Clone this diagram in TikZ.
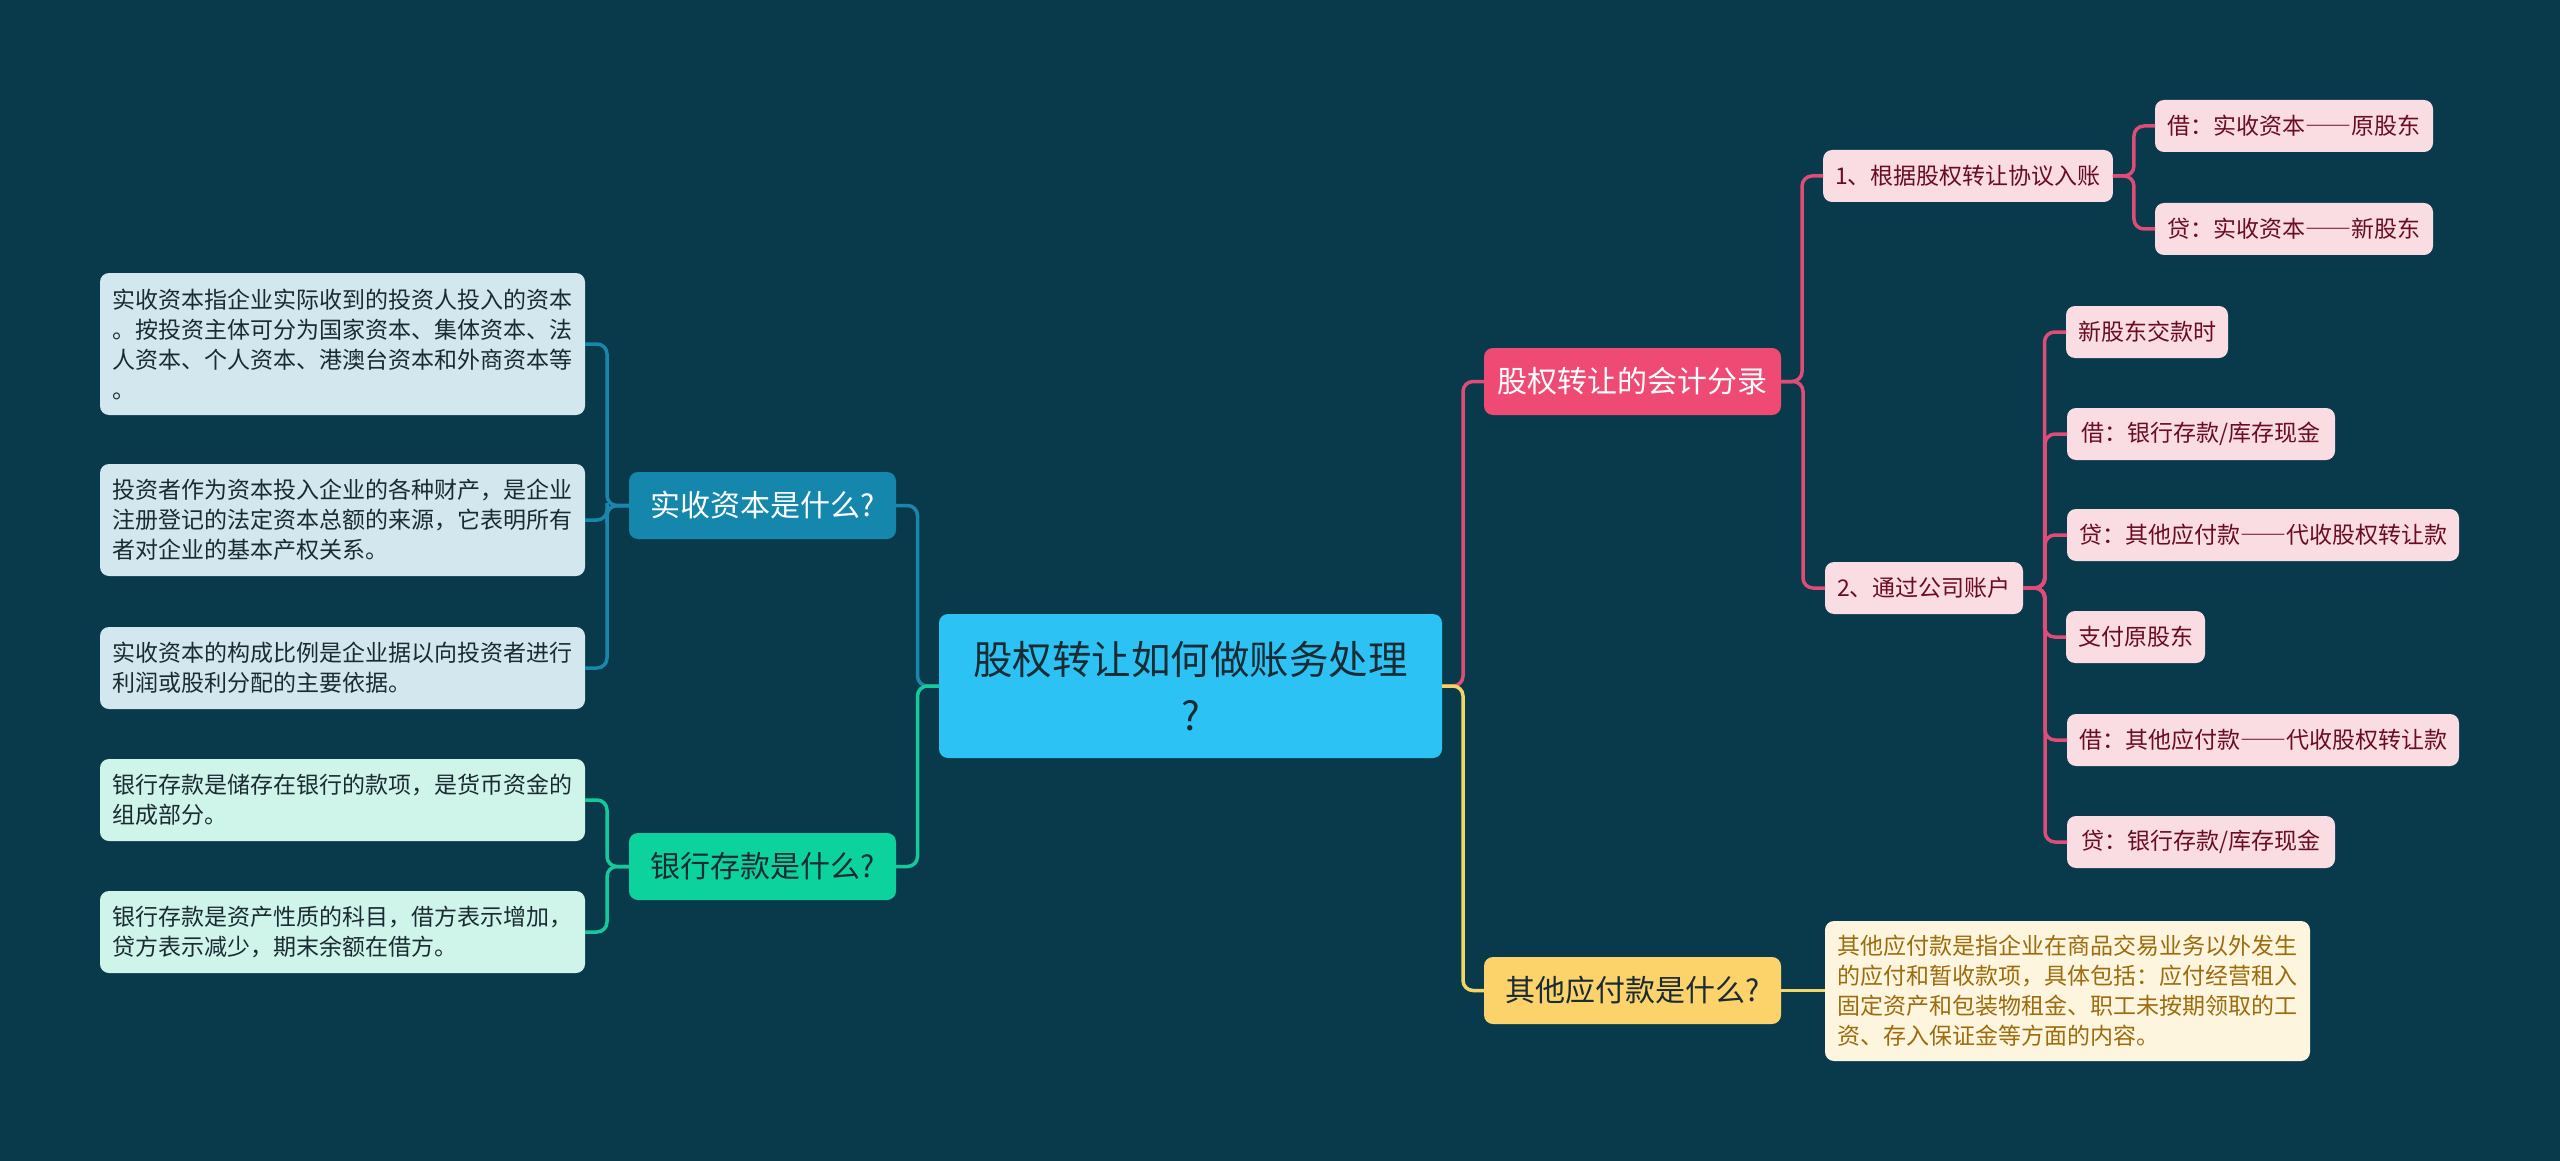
\documentclass[tikz,border=0pt]{standalone}
\usepackage{fontspec}
\setmainfont{Noto Sans CJK SC}
\newfontfamily\fwdash[RawFeature=+fwid]{Noto Sans CJK SC}
\newcommand{\dd}{{\fwdash ——}}
\usetikzlibrary{calc}
\definecolor{bg}{HTML}{093A4C}
\definecolor{cCenter}{HTML}{2CC3F4}
\definecolor{cA}{HTML}{1687AC}
\definecolor{cAl}{HTML}{D2E7EE}
\definecolor{cB}{HTML}{0CD39E}
\definecolor{cBl}{HTML}{CFF5EB}
\definecolor{cC}{HTML}{EE4A74}
\definecolor{cCl}{HTML}{FADCE3}
\definecolor{cD}{HTML}{FCD26A}
\definecolor{cDl}{HTML}{FDF5DE}
\definecolor{lA}{HTML}{1A86AB}
\definecolor{lB}{HTML}{15C99A}
\definecolor{lC}{HTML}{DF4C77}
\definecolor{lD}{HTML}{F3D467}
\definecolor{tDark}{HTML}{1B2B33}
\definecolor{tRed}{HTML}{6A0D24}
\definecolor{tBrown}{HTML}{9C6C0E}
\begin{document}
\begin{tikzpicture}[x=1pt,y=-1pt,
  box/.style={rounded corners=9pt, inner sep=0pt, outer sep=0pt},
  leaf/.style={box, font=\fontsize{23}{30}\selectfont, align=left, inner xsep=12pt},
  lvl/.style={box, font=\fontsize{30}{38}\selectfont, align=center, minimum width=#1, minimum height=67pt},
  con/.style={line width=3.5pt, rounded corners=10pt},
]
\useasboundingbox (0,0) rectangle (2560,1161);
\fill[bg] (0,0) rectangle (2560,1161);

% center
\node[box, fill=cCenter, text=tDark, font=\fontsize{39.5}{56}\selectfont, align=center,
  minimum width=503pt, minimum height=144pt] (ctr) at (1190.5,686) {股权转让如何做账务处理\\?};

% level 1
\node[lvl=267pt, fill=cA, text=white] (A) at (762.5,505.5) {实收资本是什么?};
\node[lvl=267pt, fill=cB, text=tDark] (B) at (762.5,866.5) {银行存款是什么?};
\node[lvl=297pt, fill=cC, text=white] (C) at (1632.5,381.5) {股权转让的会计分录};
\node[lvl=297pt, fill=cD, text=tDark] (D) at (1632.5,990.5) {其他应付款是什么?};

% left leaves
\node[leaf, fill=cAl, text=tDark, text width=461pt, minimum height=142pt] (A1) at (342.5,344)
  {实收资本指企业实际收到的投资人投入的资本\\。按投资主体可分为国家资本、集体资本、法\\人资本、个人资本、港澳台资本和外商资本等\\。};
\node[leaf, fill=cAl, text=tDark, text width=461pt, minimum height=112pt] (A2) at (342.5,520)
  {投资者作为资本投入企业的各种财产，是企业\\注册登记的法定资本总额的来源，它表明所有\\者对企业的基本产权关系。};
\node[leaf, fill=cAl, text=tDark, text width=461pt, minimum height=82pt] (A3) at (342.5,668)
  {实收资本的构成比例是企业据以向投资者进行\\利润或股利分配的主要依据。};
\node[leaf, fill=cBl, text=tDark, text width=461pt, minimum height=82pt] (B1) at (342.5,800)
  {银行存款是储存在银行的款项，是货币资金的\\组成部分。};
\node[leaf, fill=cBl, text=tDark, text width=461pt, minimum height=82pt] (B2) at (342.5,932)
  {银行存款是资产性质的科目，借方表示增加，\\贷方表示减少，期末余额在借方。};

% D leaf
\node[leaf, fill=cDl, text=tBrown, text width=461pt, minimum height=140pt] (D1) at (2067.5,991)
  {其他应付款是指企业在商品交易业务以外发生\\的应付和暂收款项，具体包括：应付经营租入\\固定资产和包装物租金、职工未按期领取的工\\资、存入保证金等方面的内容。};

% C branch
\node[leaf, fill=cCl, text=tRed, minimum width=286pt, minimum height=52pt] (C1) at (1968,176) {1、根据股权转让协议入账};
\node[leaf, fill=cCl, text=tRed, minimum width=278pt, minimum height=52pt] (C1a) at (2294,126) {借：实收资本\dd 原股东};
\node[leaf, fill=cCl, text=tRed, minimum width=278pt, minimum height=52pt] (C1b) at (2294,229) {贷：实收资本\dd 新股东};
\node[leaf, fill=cCl, text=tRed, minimum width=198pt, minimum height=52pt] (C2) at (1924,588) {2、通过公司账户};
\node[leaf, fill=cCl, text=tRed, minimum width=160pt, minimum height=52pt] (C21) at (2147,332) {新股东交款时};
\node[leaf, fill=cCl, text=tRed, minimum width=268pt, minimum height=52pt] (C22) at (2201,434) {借：银行存款/库存现金};
\node[leaf, fill=cCl, text=tRed, minimum width=392pt, minimum height=52pt] (C23) at (2263,535) {贷：其他应付款\dd 代收股权转让款};
\node[leaf, fill=cCl, text=tRed, minimum width=137pt, minimum height=52pt] (C24) at (2135.5,637) {支付原股东};
\node[leaf, fill=cCl, text=tRed, minimum width=392pt, minimum height=52pt] (C25) at (2263,740) {借：其他应付款\dd 代收股权转让款};
\node[leaf, fill=cCl, text=tRed, minimum width=268pt, minimum height=52pt] (C26) at (2201,842) {贷：银行存款/库存现金};

% connectors: center to level 1
\draw[con, lA] (ctr.west) -| ($(ctr.west)!.5!(A.east)$) |- (A.east);
\draw[con, lB] (ctr.west) -| ($(ctr.west)!.5!(B.east)$) |- (B.east);
\draw[con, lC] (ctr.east) -| ($(ctr.east)!.5!(C.west)$) |- (C.west);
\draw[con, lD] (ctr.east) -| ($(ctr.east)!.5!(D.west)$) |- (D.west);

% A branch
\foreach \n in {A1,A2,A3}
  \draw[con, lA] (A.west) -| ($(A.west)!.5!(\n.east)$) |- (\n.east);
% B branch
\foreach \n in {B1,B2}
  \draw[con, lB] (B.west) -| ($(B.west)!.5!(\n.east)$) |- (\n.east);
% C branch
\foreach \n in {C1,C2}
  \draw[con, lC] (C.east) -| ($(C.east)!.5!(\n.west)$) |- (\n.west);
\foreach \n in {C1a,C1b}
  \draw[con, lC] (C1.east) -| ($(C1.east)!.5!(\n.west)$) |- (\n.west);
\foreach \n in {C21,C22,C23,C24,C25,C26}
  \draw[con, lC] (C2.east) -| ($(C2.east)!.5!(\n.west)$) |- (\n.west);
% D branch
\draw[con, lD] (D.east) -- (D1.west |- D.east);
\end{tikzpicture}
\end{document}
